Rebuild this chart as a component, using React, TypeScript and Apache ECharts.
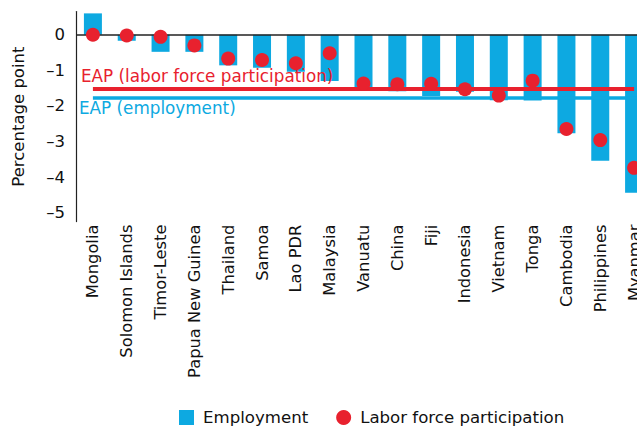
import React, { useEffect, useRef } from "react";
import * as echarts from "echarts";

const categories = [
  "Mongolia", "Solomon Islands", "Timor-Leste", "Papua New Guinea", "Thailand", "Samoa",
  "Lao PDR", "Malaysia", "Vanuatu", "China", "Fiji", "Indonesia", "Vietnam", "Tonga",
  "Cambodia", "Philippines", "Myanmar",
];
const employment = [0.6, -0.17, -0.48, -0.48, -0.86, -0.93, -1.04, -1.3, -1.58, -1.59, -1.72, -1.6, -1.84, -1.85, -2.77, -3.54, -4.44];
const laborForce = [0.0, -0.02, -0.06, -0.3, -0.67, -0.71, -0.8, -0.52, -1.37, -1.39, -1.38, -1.53, -1.71, -1.29, -2.65, -2.96, -3.74];
const eapLaborForce = -1.53;
const eapEmployment = -1.77;
const yTicks = [0, -1, -2, -3, -4, -5];

const BLUE = "#0DA9E1";
const RED = "#E8212E";
const FONT = "'DejaVu Sans', sans-serif";

export default function App() {
  const ref = useRef<HTMLDivElement>(null);
  useEffect(() => {
    if (!ref.current) return;
    const chart = echarts.init(ref.current, undefined, { renderer: "svg" });
    const last = categories[categories.length - 1];
    chart.setOption({
      animation: false,
      textStyle: { fontFamily: FONT },
      grid: { left: 76, top: 11.6, width: 575, height: 210 },
      legend: {
        left: 179,
        top: 409,
        padding: 0,
        itemWidth: 15,
        itemHeight: 15,
        itemGap: 28,
        textStyle: { fontSize: 16.6, color: "#111", fontFamily: FONT, padding: [0, 0, 0, 4] },
        data: [
          { name: "Employment", icon: "rect" },
          { name: "Labor force participation", icon: "circle" },
        ],
      },
      xAxis: {
        type: "category",
        data: categories,
        axisLine: { show: false },
        axisTick: { show: false },
        axisLabel: { rotate: 90, fontSize: 16.3, color: "#111", margin: 3, interval: 0, fontFamily: FONT },
      },
      yAxis: {
        type: "value",
        min: -5.25,
        max: 0.65,
        interval: 0.05,
        name: "Percentage point",
        nameLocation: "middle",
        nameGap: 49,
        nameTextStyle: { fontSize: 16.5, color: "#111", fontFamily: FONT },
        axisLine: { show: true, lineStyle: { color: "#222", width: 1.2 } },
        axisTick: { show: false },
        splitLine: { show: false },
        axisLabel: {
          fontSize: 16.5,
          color: "#111",
          margin: 11,
          fontFamily: FONT,
          formatter: (v: number) => {
            const r = Math.round(v);
            if (Math.abs(v - r) > 1e-6 || !yTicks.includes(r)) return "";
            return r < 0 ? "\u2013" + Math.abs(r) : String(r);
          },
        },
      },
      series: [
        {
          name: "Employment",
          type: "bar",
          data: employment,
          barWidth: 18,
          itemStyle: { color: BLUE },
          z: 1,
          markLine: {
            silent: true,
            symbol: "none",
            label: { show: false },
            data: [
              [
                { yAxis: 0, x: 76, lineStyle: { color: "#222", width: 1.5, type: "solid" } },
                { yAxis: 0, x: 651 },
              ],
            ],
          },
        },
        {
          name: "EAP employment",
          type: "line",
          data: [],
          z: 3,
          markLine: {
            silent: true,
            symbol: "none",
            label: { show: false },
            lineStyle: { color: BLUE, width: 3.5, type: "solid" },
            data: [[{ coord: [categories[0], eapEmployment] }, { coord: [last, eapEmployment], x: 651 }]],
          },
        },
        {
          name: "EAP labor force",
          type: "line",
          data: [],
          z: 4,
          markLine: {
            silent: true,
            symbol: "none",
            label: { show: false },
            lineStyle: { color: RED, width: 4, type: "solid" },
            data: [[{ coord: [categories[0], eapLaborForce] }, { coord: [last, eapLaborForce] }]],
          },
        },
        {
          name: "Labor force participation",
          type: "scatter",
          data: laborForce,
          symbolSize: 14,
          itemStyle: { color: RED, opacity: 1 },
          z: 5,
        },
      ],
      graphic: [
        {
          type: "text",
          left: 81,
          top: 67,
          style: { text: "EAP (labor force participation)", fill: RED, fontSize: 16.8, fontFamily: FONT },
          z: 10,
        },
        {
          type: "text",
          left: 79,
          top: 99,
          style: { text: "EAP (employment)", fill: BLUE, fontSize: 16.8, fontFamily: FONT },
          z: 10,
        },
      ],
    });
    return () => chart.dispose();
  }, []);
  return (
    <div style={{ position: "absolute", left: 0, top: 0, width: 637, height: 428, overflow: "hidden", background: "#fff" }}>
      <div ref={ref} style={{ width: 651, height: 428 }} />
    </div>
  );
}
